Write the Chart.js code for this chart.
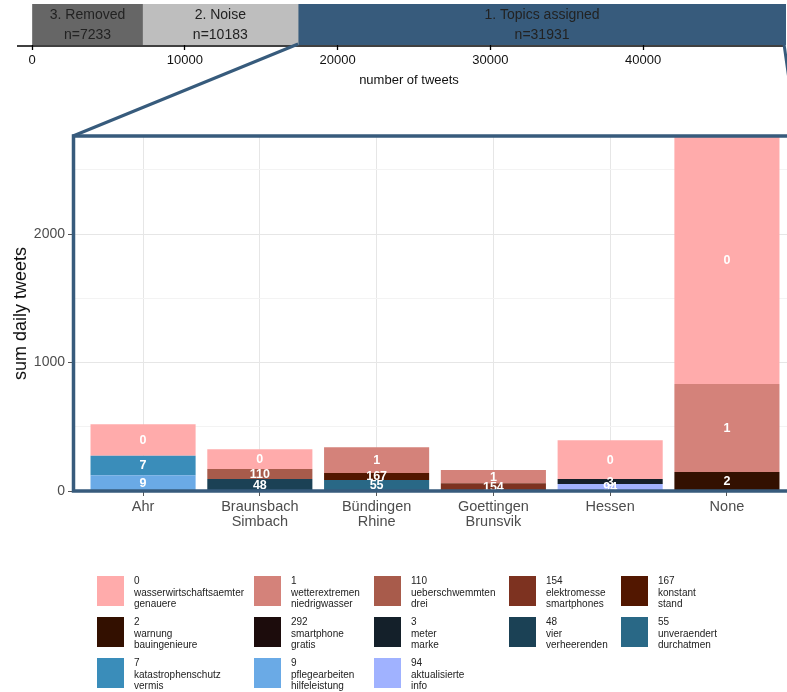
<!DOCTYPE html>
<html><head><meta charset="utf-8">
<script src="https://cdn.jsdelivr.net/npm/chart.js@4"></script>
<style>
html,body{margin:0;padding:0;width:787px;height:692px;overflow:hidden;background:#fff;font-family:"Liberation Sans",Arial,sans-serif;}
canvas{position:absolute;left:0;top:0;}
#legend{position:absolute;left:97px;top:576px;display:grid;grid-template-columns:157px 120px 135px 112px auto;row-gap:11px;}
.item{display:flex;align-items:flex-start;height:30px}
.sw{width:27px;height:30px;margin-right:10px;flex:none}
.tx{font-size:10px;line-height:11.5px;color:#222;white-space:pre;margin-top:-1px}
</style></head><body>
<canvas id="top" width="787" height="90"></canvas>
<canvas id="main" width="800" height="560"></canvas>
<canvas id="zoom" width="787" height="692"></canvas>
<div id="legend"></div>
<script>
// ---- top bar data ----
const stageLabels = ['3. Removed', '2. Noise', '1. Topics assigned'];
const stageCounts = [7233, 10183, 31931];
const stageColors = ['#666666', '#bebebe', '#375b7c'];
const tweetTicks = [0, 10000, 20000, 30000, 40000];

// ---- zoomed panel data ----
const categories = ['Ahr', 'Braunsbach\nSimbach', 'Bündingen\nRhine', 'Goettingen\nBrunsvik', 'Hessen', 'None'];
const dailyTicks = [0, 500, 1000, 1500, 2000, 2500];
const topicIds = ['0', '1', '110', '154', '167', '2', '292', '3', '48', '55', '7', '9', '94'];
const topicWords = ['wasserwirtschaftsaemter\ngenauere', 'wetterextremen\nniedrigwasser', 'ueberschwemmten\ndrei',
  'elektromesse\nsmartphones', 'konstant\nstand', 'warnung\nbauingenieure', 'smartphone\ngratis', 'meter\nmarke',
  'vier\nverheerenden', 'unveraendert\ndurchatmen', 'katastrophenschutz\nvermis', 'pflegearbeiten\nhilfeleistung',
  'aktualisierte\ninfo'];
const topicColors = ['#ffabab', '#d4827a', '#a85b4b', '#7d3220', '#521700', '#331000', '#1c0c0c', '#14202a',
  '#1b4155', '#296886', '#3a8dba', '#6aaae6', '#a0b2ff'];
const topic0   = [244, 154, 0, 0, 302, 1930];
const topic1   = [0, 0, 200, 103, 0, 685];
const topic110 = [0, 78, 0, 0, 0, 0];
const topic154 = [0, 0, 0, 60, 0, 0];
const topic167 = [0, 0, 54, 0, 0, 0];
const topic2   = [0, 0, 0, 0, 0, 148];
const topic292 = [0, 0, 0, 0, 0, 0];
const topic3   = [0, 0, 0, 0, 39, 0];
const topic48  = [0, 93, 0, 0, 0, 0];
const topic55  = [0, 0, 86, 0, 0, 0];
const topic7   = [153, 0, 0, 0, 0, 0];
const topic9   = [122, 0, 0, 0, 0, 0];
const topic94  = [0, 0, 0, 0, 54, 0];
const topicValues = [topic0, topic1, topic110, topic154, topic167, topic2, topic292, topic3, topic48, topic55, topic7, topic9, topic94];

const FONT = '"Liberation Sans", Arial, sans-serif';
const BLUE = '#375b7c';

// ---- top chart ----
const totalTweets = stageCounts.reduce((a, b) => a + b, 0);
const topTextPlugin = {
  id: 'topText',
  afterDatasetsDraw(chart) {
    const ctx = chart.ctx;
    ctx.save();
    ctx.fillStyle = '#222';
    ctx.font = '14px ' + FONT;
    ctx.textAlign = 'center';
    ctx.textBaseline = 'middle';
    chart.data.datasets.forEach((ds, d) => {
      const el = chart.getDatasetMeta(d).data[0];
      const cx = (el.x + el.base) / 2;
      ctx.fillText(ds.label, cx, el.y - 9.5);
      ctx.fillText('n=' + ds.data[0], cx, el.y + 10.5);
    });
    ctx.restore();
  },
  afterDraw(chart) {
    const ctx = chart.ctx, a = chart.chartArea;
    ctx.save();
    ctx.strokeStyle = '#000';
    ctx.lineWidth = 1.6;
    ctx.beginPath();
    ctx.moveTo(a.left - 15, a.bottom + 1);
    ctx.lineTo(a.right - 3, a.bottom + 1);
    ctx.stroke();
    ctx.restore();
  }
};
const topChart = new Chart(document.getElementById('top'), {
  type: 'bar',
  data: {
    labels: ['tweets'],
    datasets: stageLabels.map((l, i) => ({
      label: l, data: [stageCounts[i]], backgroundColor: stageColors[i],
      barPercentage: 1, categoryPercentage: 1, borderWidth: 0
    }))
  },
  options: {
    indexAxis: 'y', responsive: false, animation: false, devicePixelRatio: 1,
    layout: { padding: { top: 4, left: 32, right: 1, bottom: 0 } },
    plugins: { legend: { display: false }, tooltip: { enabled: false } },
    scales: {
      y: { stacked: true, display: false },
      x: {
        stacked: true, min: 0, max: totalTweets,
        afterBuildTicks: s => { s.ticks = tweetTicks.map(v => ({ value: v })); },
        afterFit: s => { s.height = 45; },
        border: { display: false },
        grid: { display: true, drawOnChartArea: false, drawTicks: true, tickLength: 5, tickColor: '#000', tickWidth: 1.3 },
        ticks: { color: '#111', font: { size: 13, family: FONT }, padding: 3, maxRotation: 0, callback: v => String(v) },
        title: { display: true, text: 'number of tweets', color: '#111', font: { size: 13, family: FONT }, padding: { top: 0, bottom: 2 } }
      }
    }
  },
  plugins: [topTextPlugin]
});

// ---- main chart ----
const catTotals = categories.map((c, j) => topicValues.reduce((s, arr) => s + arr[j], 0));
const yMax = Math.max(...catTotals);

const segLabelPlugin = {
  id: 'segLabels',
  afterDatasetsDraw(chart) {
    const ctx = chart.ctx, a = chart.chartArea;
    ctx.save();
    ctx.beginPath();
    ctx.rect(a.left, a.top, a.right - a.left, a.bottom - a.top);
    ctx.clip();
    ctx.fillStyle = '#fff';
    ctx.font = 'bold 12.5px ' + FONT;
    ctx.textAlign = 'center';
    ctx.textBaseline = 'middle';
    chart.data.datasets.forEach((ds, d) => {
      chart.getDatasetMeta(d).data.forEach((el, j) => {
        if (!ds.data[j].y) return;
        ctx.fillText(ds.label, el.x, (el.y + el.base) / 2 + 0.5);
      });
    });
    ctx.restore();
  },
  afterDraw(chart) {
    const ctx = chart.ctx, a = chart.chartArea;
    ctx.save();
    ctx.strokeStyle = BLUE;
    ctx.lineWidth = 3.5;
    ctx.strokeRect(a.left + 0.5, a.top, a.right - a.left, a.bottom - a.top);
    ctx.restore();
  }
};

const datasets = topicIds.map((id, i) => ({
  label: id,
  data: categories.map((c, j) => ({ x: j, y: topicValues[i][j] })),
  backgroundColor: topicColors[i],
  borderWidth: 0,
  barPercentage: 0.9, categoryPercentage: 1
})).reverse();

const mainChart = new Chart(document.getElementById('main'), {
  type: 'bar',
  data: { datasets },
  options: {
    responsive: false, animation: false, devicePixelRatio: 1,
    layout: { padding: { top: 136, left: 0, right: 3, bottom: 0 } },
    plugins: { legend: { display: false }, tooltip: { enabled: false } },
    scales: {
      x: {
        type: 'linear', stacked: true, offset: false, min: -0.6, max: categories.length - 0.4,
        afterBuildTicks: s => { s.ticks = categories.map((c, i) => ({ value: i })); },
        afterFit: s => { s.height = 69; },
        border: { display: false },
        grid: { offset: false, color: '#e6e6e6', lineWidth: 1, tickLength: 5, tickColor: '#555', tickWidth: 1 },
        ticks: { color: '#4d4d4d', font: { size: 14.5, family: FONT, lineHeight: 1.05 }, padding: 3, maxRotation: 0,
          callback: v => categories[v] !== undefined ? categories[v].split('\n') : '' }
      },
      y: {
        stacked: true, min: 0, max: yMax,
        afterBuildTicks: s => { s.ticks = dailyTicks.map(v => ({ value: v })); },
        afterFit: s => { s.width = 73; },
        border: { display: false },
        grid: {
          color: c => (c.tick && c.tick.value % 1000 === 0) ? '#e6e6e6' : '#f3f3f3',
          lineWidth: 1, tickLength: 5,
          tickColor: c => (c.tick && c.tick.value % 1000 === 0) ? '#555' : 'rgba(0,0,0,0)'
        },
        ticks: { color: '#4d4d4d', font: { size: 14, family: FONT }, padding: 3,
          callback: v => v % 1000 === 0 ? String(v) : '' },
        title: { display: true, text: 'sum daily tweets', color: '#111', font: { size: 18, family: FONT }, padding: { top: 10, bottom: 0 } }
      }
    }
  },
  plugins: [segLabelPlugin]
});

// ---- zoom connector lines ----
(function () {
  const zc = document.getElementById('zoom').getContext('2d');
  const tx = topChart.scales.x, ta = topChart.chartArea, ma = mainChart.chartArea;
  zc.strokeStyle = BLUE;
  zc.lineWidth = 3;
  zc.lineCap = 'butt';
  zc.beginPath();
  zc.moveTo(tx.getPixelForValue(stageCounts[0] + stageCounts[1]), ta.bottom - 1);
  zc.lineTo(ma.left, ma.top);
  zc.moveTo(tx.getPixelForValue(totalTweets) - 2, ta.bottom - 1);
  zc.lineTo(ma.right, ma.top);
  zc.stroke();
})();

// ---- legend ----
const legend = document.getElementById('legend');
topicIds.forEach((id, i) => {
  const item = document.createElement('div');
  item.className = 'item';
  const sw = document.createElement('div');
  sw.className = 'sw';
  sw.style.background = topicColors[i];
  const tx = document.createElement('div');
  tx.className = 'tx';
  tx.textContent = id + '\n' + topicWords[i];
  item.appendChild(sw);
  item.appendChild(tx);
  legend.appendChild(item);
});
</script></body></html>
